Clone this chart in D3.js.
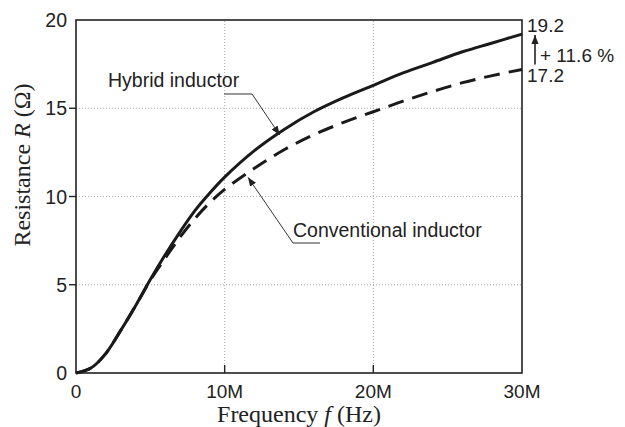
<!DOCTYPE html>
<html>
<head>
<meta charset="utf-8">
<script src="https://cdn.jsdelivr.net/npm/d3@7"></script>
<style>
  body { margin: 0; background: #fff; }
  text { fill: #222; }
</style>
</head>
<body>
<div id="app"></div>
<script>
const WIDTH = 625
const HEIGHT = 427
const M = { left: 76, right: 103, top: 20, bottom: 54 }

// frequency in Hz, resistance in ohm
const freq = [0, 1e6, 2e6, 3e6, 4e6, 5e6, 6e6, 7e6, 8e6, 9e6, 10e6, 12e6, 14e6, 16e6, 18e6, 20e6, 22e6, 24e6, 26e6, 28e6, 30e6]
const hybrid = [0, 0.28, 1.1, 2.4, 3.8, 5.3, 6.7, 8.0, 9.2, 10.2, 11.1, 12.6, 13.8, 14.8, 15.6, 16.3, 17.0, 17.6, 18.2, 18.7, 19.2]
const conventional = [0, 0.28, 1.1, 2.4, 3.8, 5.25, 6.5, 7.7, 8.75, 9.65, 10.4, 11.6, 12.65, 13.5, 14.2, 14.8, 15.4, 15.95, 16.45, 16.85, 17.2]

const xTickVals = [0, 10e6, 20e6, 30e6]
const xTickLabels = ['0', '10M', '20M', '30M']
const yTickVals = [0, 5, 10, 15, 20]

const endLabels = ['19.2', '17.2']
const increaseLabel = '+ 11.6 %'

const x = d3.scaleLinear().domain([0, 30e6]).range([M.left, WIDTH - M.right])
const y = d3.scaleLinear().domain([0, 20]).range([HEIGHT - M.bottom, M.top])

const svg = d3.select('#app').append('svg')
  .attr('width', WIDTH)
  .attr('height', HEIGHT)
  .style('font-family', '"Liberation Sans", Arial, sans-serif')

const defs = svg.append('defs')
defs.append('marker')
  .attr('id', 'head')
  .attr('viewBox', '0 0 10 10')
  .attr('refX', 10).attr('refY', 5)
  .attr('markerWidth', 9).attr('markerHeight', 9)
  .attr('markerUnits', 'userSpaceOnUse')
  .attr('orient', 'auto')
.append('path')
  .attr('d', 'M0,1 L10,5 L0,9 Z')
  .attr('fill', '#222')

// grid
const grid = svg.append('g')
  .attr('stroke', '#aaa')
  .attr('stroke-width', 1)
  .attr('stroke-dasharray', '1,2')

grid.selectAll('line.gy')
  .data(yTickVals.filter(d => d > 0 && d < 20))
  .enter()
.append('line')
  .attr('x1', x(0)).attr('x2', x(30e6))
  .attr('y1', d => y(d)).attr('y2', d => y(d))

grid.selectAll('line.gx')
  .data(xTickVals.filter(d => d > 0 && d < 30e6))
  .enter()
.append('line')
  .attr('y1', y(0)).attr('y2', y(20))
  .attr('x1', d => x(d)).attr('x2', d => x(d))

// frame
svg.append('rect')
  .attr('x', x(0)).attr('y', y(20))
  .attr('width', x(30e6) - x(0))
  .attr('height', y(0) - y(20))
  .attr('fill', 'none')
  .attr('stroke', '#222')
  .attr('stroke-width', 1.6)

// ticks
svg.append('g').selectAll('line')
  .data(yTickVals.filter(d => d > 0 && d < 20))
  .enter()
.append('line')
  .attr('x1', x(0) - 7).attr('x2', x(0))
  .attr('y1', d => y(d)).attr('y2', d => y(d))
  .attr('stroke', '#222').attr('stroke-width', 1.4)

svg.append('g').selectAll('line')
  .data(xTickVals.filter(d => d > 0 && d < 30e6))
  .enter()
.append('line')
  .attr('y1', y(0)).attr('y2', y(0) - 8)
  .attr('x1', d => x(d)).attr('x2', d => x(d))
  .attr('stroke', '#222').attr('stroke-width', 1.4)

// tick labels
svg.append('g').selectAll('text')
  .data(yTickVals)
  .enter()
.append('text')
  .attr('x', x(0) - 9)
  .attr('y', d => y(d) + 7)
  .attr('text-anchor', 'end')
  .style('font-size', '19.5px')
  .text(d => d)

svg.append('g').selectAll('text')
  .data(xTickVals)
  .enter()
.append('text')
  .attr('x', d => x(d))
  .attr('y', y(0) + 25)
  .attr('text-anchor', 'middle')
  .style('font-size', '19px')
  .text((d, i) => xTickLabels[i])

// axis titles
const xTitle = svg.append('text')
  .attr('x', (x(0) + x(30e6)) / 2)
  .attr('y', 422)
  .attr('text-anchor', 'middle')
  .style('font-family', '"Liberation Serif", "Times New Roman", serif')
  .style('font-size', '24px')
xTitle.append('tspan').text('Frequency ')
xTitle.append('tspan').style('font-style', 'italic').text('f')
xTitle.append('tspan').text(' (Hz)')

const yTitle = svg.append('text')
  .attr('transform', `translate(30, ${165}) rotate(-90)`)
  .attr('text-anchor', 'middle')
  .style('font-family', '"Liberation Serif", "Times New Roman", serif')
  .style('font-size', '24px')
yTitle.append('tspan').text('Resistance ')
yTitle.append('tspan').style('font-style', 'italic').text('R')
yTitle.append('tspan').text(' (Ω)')

// curves
const line = d3.line()
  .x((d, i) => x(freq[i]))
  .y(d => y(d))
  .curve(d3.curveCatmullRom.alpha(0.5))

svg.append('path')
  .datum(conventional)
  .attr('d', line)
  .attr('fill', 'none')
  .attr('stroke', '#1a1a1a')
  .attr('stroke-width', 3)
  .attr('stroke-dasharray', '16,9')

svg.append('path')
  .datum(hybrid)
  .attr('d', line)
  .attr('fill', 'none')
  .attr('stroke', '#1a1a1a')
  .attr('stroke-width', 3)

// annotations
svg.append('text')
  .attr('x', 108).attr('y', 87)
  .style('font-size', '19.5px')
  .text('Hybrid inductor')

svg.append('path')
  .attr('d', `M224,94 L252,94 L${x(13.7e6)},${y(13.6) + 2}`)
  .attr('fill', 'none')
  .attr('stroke', '#333')
  .attr('stroke-width', 1)
  .attr('marker-end', 'url(#head)')

svg.append('text')
  .attr('x', 293).attr('y', 237)
  .style('font-size', '19.5px')
  .text('Conventional inductor')

svg.append('path')
  .attr('d', `M320,243 L293,243 L${x(11.5e6) + 1},${y(11.2) + 2}`)
  .attr('fill', 'none')
  .attr('stroke', '#333')
  .attr('stroke-width', 1)
  .attr('marker-end', 'url(#head)')

// end values
svg.append('g').selectAll('text')
  .data([hybrid[hybrid.length - 1], conventional[conventional.length - 1]])
  .enter()
.append('text')
  .attr('x', x(30e6) + 5)
  .attr('y', (d, i) => i === 0 ? y(d) - 2 : y(d) + 13)
  .style('font-size', '19px')
  .text((d, i) => endLabels[i])

svg.append('line')
  .attr('x1', x(30e6) + 13).attr('x2', x(30e6) + 13)
  .attr('y1', y(17.2) - 5).attr('y2', y(19.2) + 1)
  .attr('stroke', '#222')
  .attr('stroke-width', 1.6)
  .attr('marker-end', 'url(#head)')

svg.append('text')
  .attr('x', x(30e6) + 18)
  .attr('y', 62)
  .style('font-size', '19px')
  .text(increaseLabel)
</script>
</body>
</html>
